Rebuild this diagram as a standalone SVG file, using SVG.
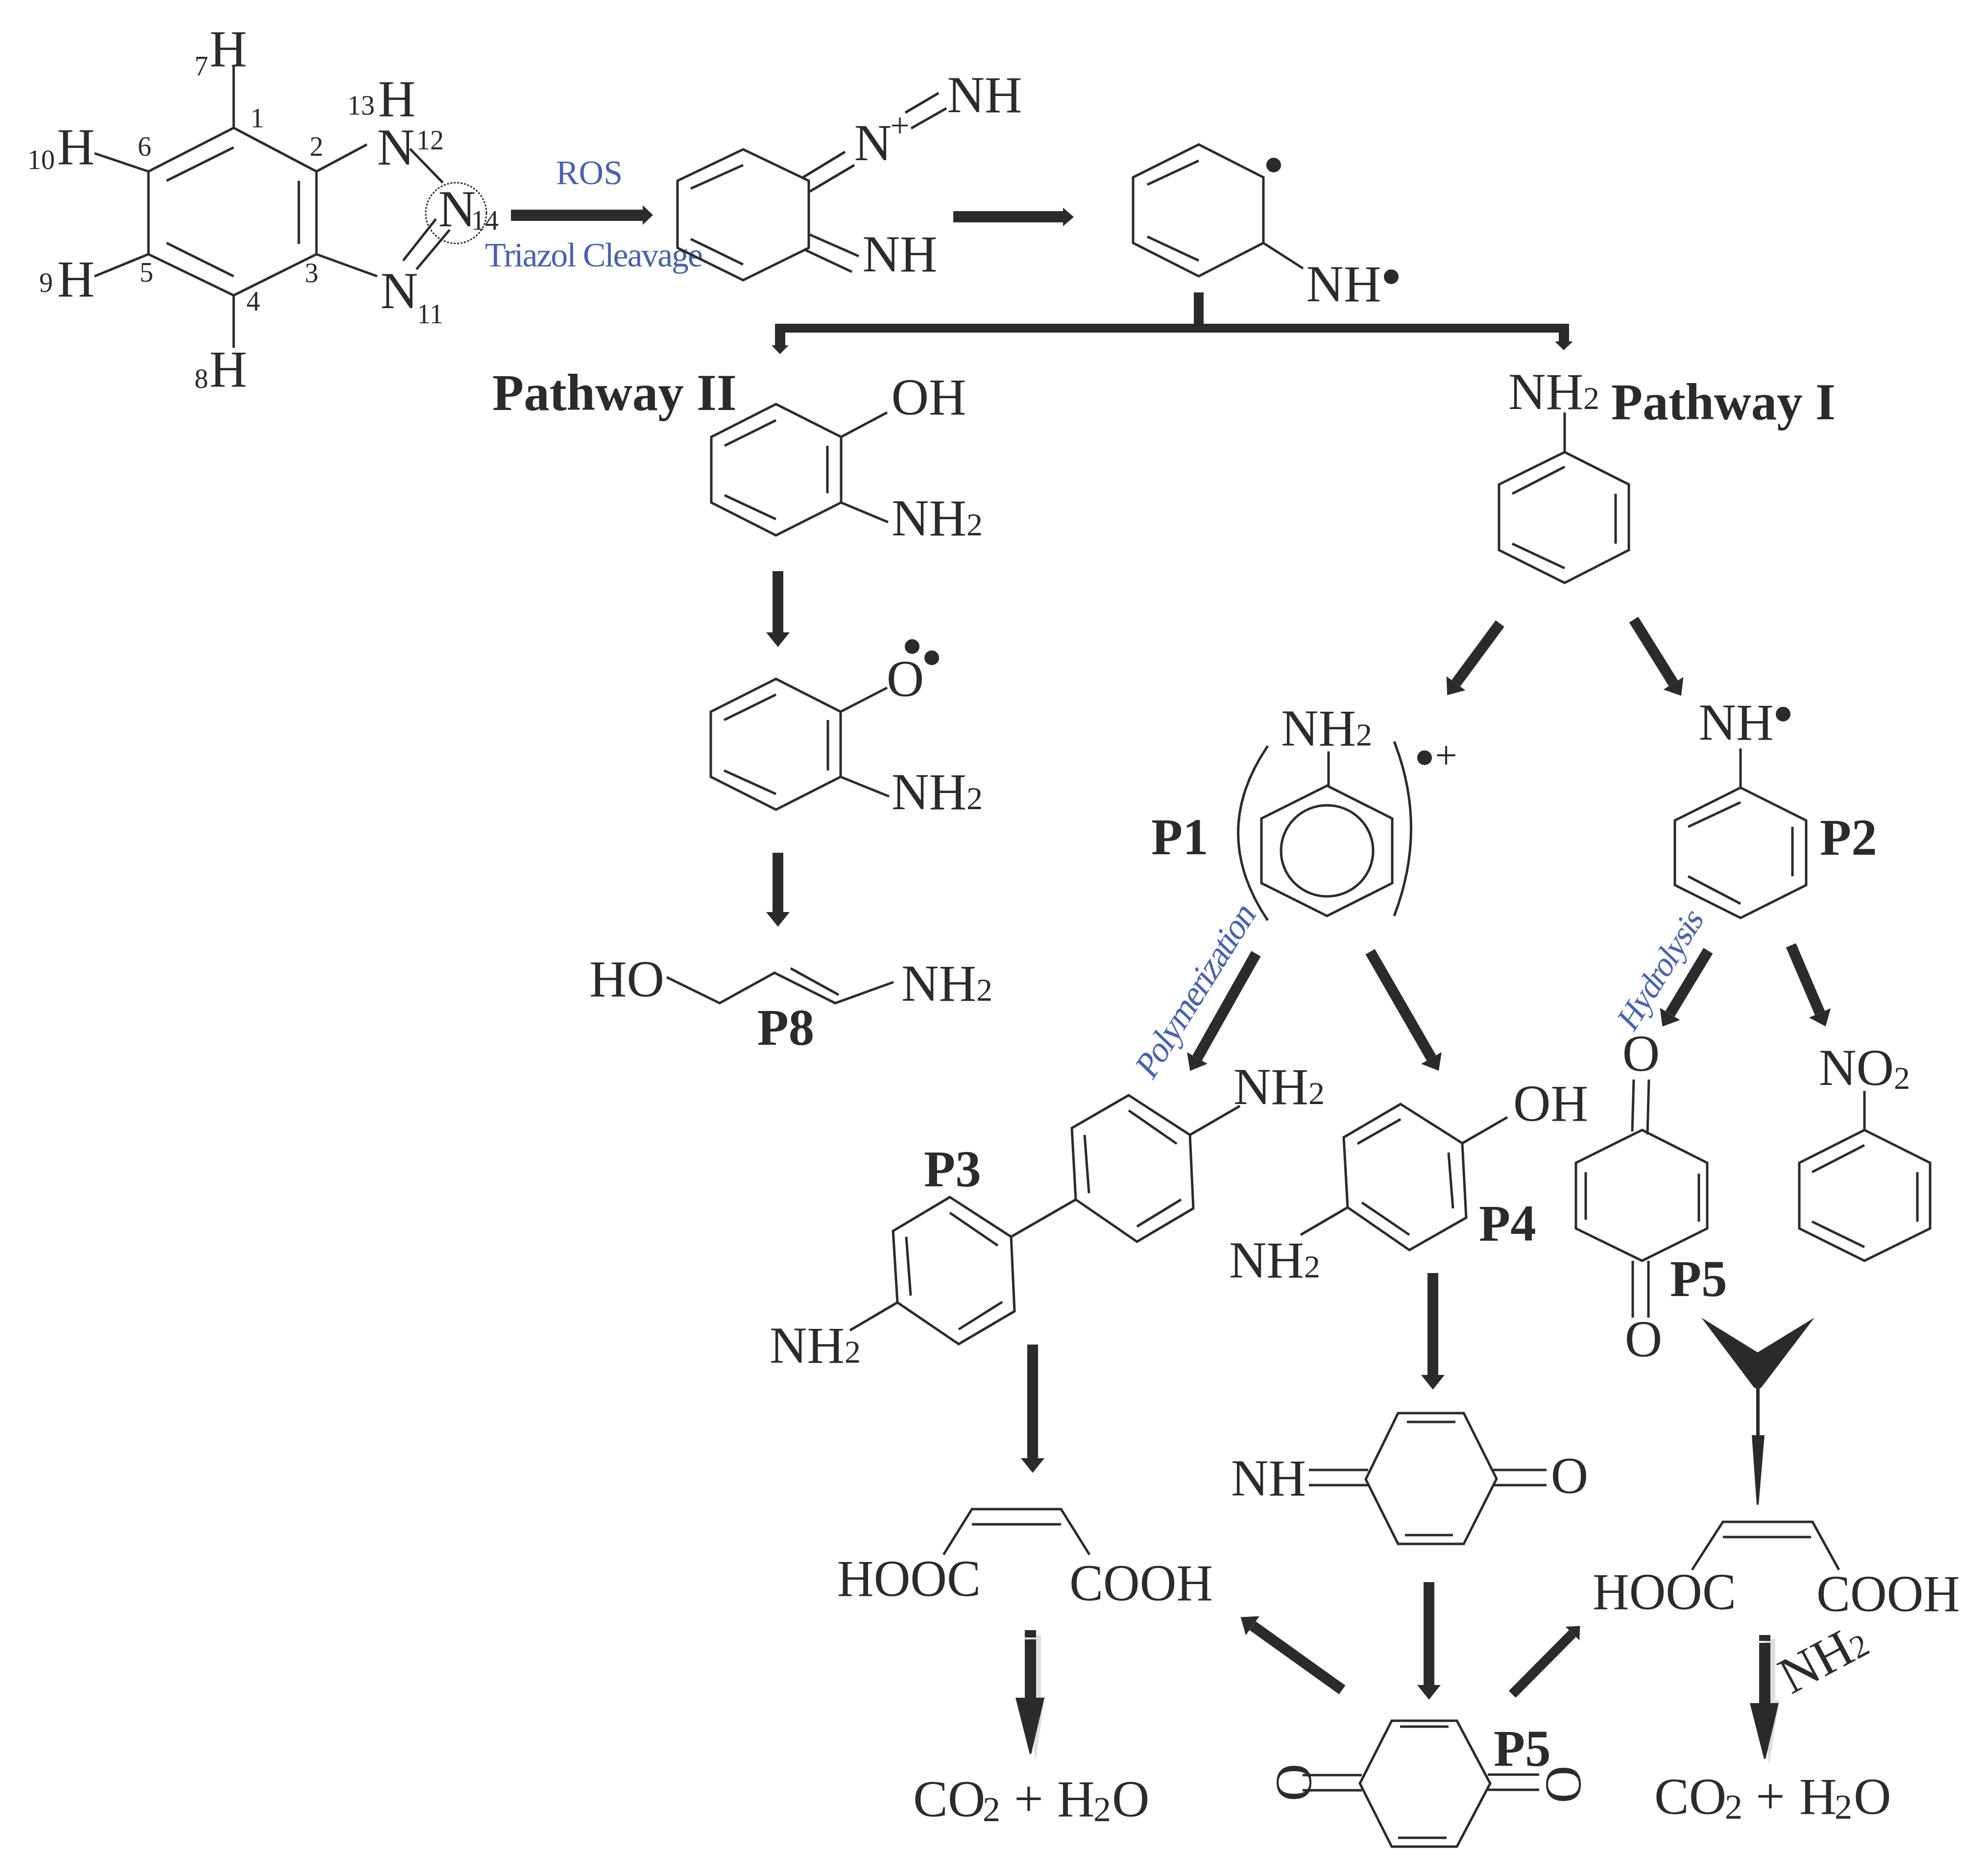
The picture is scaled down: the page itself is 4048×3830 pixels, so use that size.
<svg xmlns="http://www.w3.org/2000/svg" width="4048" height="3830" viewBox="0 0 4048 3830">
<style>
text{font-family:"Liberation Serif","Times New Roman",serif;fill:#2b2b2b}
.t{font-size:106px}
.n{font-size:56px;text-anchor:middle}
.m{text-anchor:middle}
.s{font-size:66px}
.u{font-size:72px}
.p{font-size:105px;font-weight:bold}
.l{fill:#4a62ac;font-size:70px}
.b{fill:none;stroke:#2b2b2b;stroke-width:5;stroke-linejoin:miter}
.a{fill:none;stroke:#2b2b2b;stroke-width:22}
.a2{fill:none;stroke:#2b2b2b;stroke-width:20}
.f{fill:#2b2b2b;stroke:none}
.g{fill:#dedede;stroke:none}
</style>
<defs>
<marker id="h" markerUnits="userSpaceOnUse" markerWidth="40" markerHeight="60" refX="0" refY="30" orient="auto" overflow="visible"><path class="f" d="M0 6L30 30L0 54z"/></marker>
<marker id="hs" markerUnits="userSpaceOnUse" markerWidth="40" markerHeight="60" refX="0" refY="30" orient="auto" overflow="visible"><path class="f" d="M0 10L22 30L0 50z"/></marker>
</defs>
<rect width="4048" height="3830" fill="#fff"/>
<g id="connectors">
<path class="f" d="M1043 428H1312V419L1333 439L1312 459V451H1043z"/>
<path class="f" d="M1946 431H2170V424L2192 443L2170 462V454H1946z"/>
<path class="f" d="M2437 597H2457V661H3203V697H3211L3192 715L3174 697H3182V679H1603V705H1610L1592 723L1575 705H1582V661H2437z"/>
<line class="a" x1="1588" y1="1166" x2="1588" y2="1291" marker-end="url(#h)"/>
<line class="a" x1="1588" y1="1741" x2="1588" y2="1862" marker-end="url(#h)"/>
<line class="a" x1="3062" y1="1273" x2="2972" y2="1395" marker-end="url(#h)"/>
<line class="a" x1="3335" y1="1265" x2="3416" y2="1395" marker-end="url(#h)"/>
<line class="a" x1="2564" y1="1947" x2="2444" y2="2160" marker-end="url(#h)"/>
<line class="a" x1="2797" y1="1943" x2="2922" y2="2160" marker-end="url(#h)"/>
<line class="a" x1="3487" y1="1941" x2="3409" y2="2070" marker-end="url(#h)"/>
<line class="a" x1="3656" y1="1930" x2="3715" y2="2068" marker-end="url(#h)"/>
<line class="a" x1="2108" y1="2745" x2="2108" y2="2977" marker-end="url(#h)"/>
<line class="a" x1="2925" y1="2599" x2="2925" y2="2807" marker-end="url(#h)"/>
<line class="a" x1="2917" y1="3230" x2="2917" y2="3440" marker-end="url(#h)"/>
<line class="a" x1="2740" y1="3450" x2="2557" y2="3319" marker-end="url(#h)"/>
<line class="a2" x1="3087" y1="3459" x2="3210" y2="3335" marker-end="url(#hs)"/>
<path class="g" d="M2103 3338h22v126h8l-18 126h-2l-10-120z"/>
<path class="f" d="M2092 3328h23v15h-23zM2092 3347h23v119h17l-27 115h-3l-29-115h19z"/>
<path class="g" d="M3602 3346h22v125h8l-20 129h-2l-8-120z"/>
<path class="f" d="M3591 3338h23v12h-23zM3591 3354h23v123h17l-27 114h-3l-29-114h19z"/>
<path class="f" d="M3473 2690L3588 2761L3704 2690L3596 2832L3592 2835V2930H3602L3590 3072H3586L3576 2930H3585V2835L3580 2832z"/>
</g>
<g id="benzotriazole">
<path class="b" d="M477 261L646 350V519L477 603L303 519V350zM477 301L340 369M610 369V498M340 496L477 564M477 135V261M477 603V710M193 313L303 350M193 564L303 519M646 350L749 295M837 304L904 373M890 447L823 532M918 469L850 550M646 519L770 564"/>
<ellipse cx="931" cy="435" rx="62" ry="62" fill="none" stroke="#2b2b2b" stroke-width="3" stroke-dasharray="4 3"/>
<text class="t m" x="466" y="135">H</text><text class="n" x="411" y="154">7</text>
<text class="n" x="525" y="260">1</text><text class="n" x="737" y="234">13</text>
<text class="t m" x="810" y="237">H</text><text class="n" x="295" y="318">6</text>
<text class="n" x="646" y="318">2</text><text class="t m" x="808" y="336">N</text>
<text class="n" x="878" y="305">12</text><text class="t m" x="155" y="335">H</text>
<text class="n" x="84" y="345">10</text><text class="t m" x="933" y="462">N</text>
<text class="n" x="990" y="469">14</text><text class="t m" x="155" y="605">H</text>
<text class="n" x="94" y="596">9</text><text class="n" x="299" y="575">5</text>
<text class="n" x="636" y="576">3</text><text class="t m" x="815" y="629">N</text>
<text class="n" x="878" y="660">11</text><text class="n" x="517" y="634">4</text>
<text class="t m" x="466" y="789">H</text><text class="n" x="411" y="792">8</text>
</g>
<g id="labels">
<text class="l m" x="1203" y="376">ROS</text>
<text class="l" x="990" y="544" textLength="445">Triazol Cleavage</text>
<text class="l" style="font-size:72px" transform="translate(2352,2208) rotate(-58) skewX(-12)" textLength="402">Polymerization</text>
<text class="l" style="font-size:68px" transform="translate(3334,2110) rotate(-58) skewX(-12)" textLength="274">Hydrolysis</text>
<text class="p" x="1005" y="837">Pathway II</text>
<text class="p" x="3289" y="856">Pathway I</text>
</g>
<g id="diazonium">
<path class="b" d="M1517 305L1651 369V506L1517 572L1383 506V369zM1517 337L1410 385M1410 488L1517 540M1636 364L1725 310M1653 391L1744 337M1848 230L1916 190M1860 262L1932 221M1653 479L1753 523M1641 509L1739 555"/>
<text class="t m" x="2010" y="229">NH</text><text class="t m" x="1782" y="327">N</text>
<text class="m" style="font-size:70px" x="1837" y="280">+</text><text class="t m" x="1837" y="554">NH</text>
</g>
<g id="diradical">
<path class="b" d="M2447 295L2579 362V496L2447 564L2313 496V362zM2447 328L2342 377M2342 483L2447 532M2579 496L2660 548"/>
<circle class="f" cx="2600" cy="337" r="15"/><circle class="f" cx="2840" cy="565" r="15"/>
<text class="t m" x="2743" y="615">NH</text>
</g>
<g id="aminophenol">
<path class="b" d="M1584 825L1717 892V1026L1584 1093L1452 1026V892zM1584 858L1479 910M1689 910V1007M1479 1011L1584 1060M1717 892L1811 842M1717 1026L1813 1066"/>
<text class="t m" x="1896" y="846">OH</text><text class="t" x="1820" y="1093">NH<tspan class="s">2</tspan></text>
</g>
<g id="aniline">
<path class="b" d="M3194 842V923M3194 923L3325 989V1123L3194 1190L3060 1123V989zM3194 953L3087 1008M3298 1008V1110M3087 1110L3194 1160"/>
<text class="t" x="3079" y="835">NH<tspan class="s">2</tspan></text>
</g>
<g id="oxyl">
<path class="b" d="M1584 1386L1716 1453V1586L1584 1653L1451 1586V1453zM1584 1418L1478 1470M1690 1470V1573M1478 1573L1584 1621M1716 1453L1811 1404M1716 1586L1815 1626"/>
<text class="t m" x="1848" y="1421">O</text><circle class="f" cx="1862" cy="1320" r="15"/><circle class="f" cx="1902" cy="1343" r="15"/>
<text class="t" x="1820" y="1652">NH<tspan class="s">2</tspan></text>
</g>
<g id="P8">
<path class="b" d="M1361 1995L1469 2048L1581 1986L1705 2048L1824 2005M1614 1977L1712 2031"/>
<text class="t" x="1203" y="2034">HO</text><text class="t" x="1840" y="2043">NH<tspan class="s">2</tspan></text>
<text class="p m" x="1604" y="2133">P8</text>
</g>
<g id="P1">
<path class="b" d="M2712 1534V1604M2709 1604L2842 1671V1803L2709 1870L2575 1803V1671zM2588 1523Q2467 1700 2588 1879M2846 1514Q2915 1690 2846 1870"/>
<ellipse class="b" cx="2709" cy="1737" rx="94" ry="93"/>
<text class="t" x="2615" y="1522">NH<tspan class="s">2</tspan></text>
<circle class="f" cx="2908" cy="1547" r="15"/><text class="m" style="font-size:80px" x="2952" y="1569">+</text>
<text class="p" x="2350" y="1744">P1</text>
</g>
<g id="P2">
<path class="b" d="M3553 1528V1608M3553 1608L3687 1675V1807L3553 1874L3419 1807V1675zM3553 1638L3446 1688M3659 1688V1789M3446 1789L3553 1845"/>
<text class="t m" x="3544" y="1510">NH</text><circle class="f" cx="3640" cy="1458" r="15"/>
<text class="p" x="3715" y="1745">P2</text>
</g>
<g id="P3">
<path class="b" d="M2304 2236L2429 2317L2436 2467L2321 2535L2196 2449L2188 2303zM2304 2267L2402 2335M2214 2317L2223 2436M2321 2504L2411 2449M2429 2317L2531 2258M1939 2444L2064 2525L2071 2677L1957 2744L1832 2659L1823 2513zM1939 2476L2037 2543M1850 2525L1859 2645M1957 2714L2046 2658M2064 2525L2196 2449M1832 2659L1735 2716"/>
<text class="t" x="2518" y="2254">NH<tspan class="s">2</tspan></text><text class="t" x="1571" y="2782">NH<tspan class="s">2</tspan></text>
<text class="p" x="1886" y="2422">P3</text>
</g>
<g id="P4">
<path class="b" d="M2859 2254L2985 2334L2993 2486L2877 2552L2751 2465L2743 2322zM2859 2285L2771 2335M2957 2353L2966 2467M2780 2455L2877 2521M2985 2334L3077 2281M2751 2465L2655 2521"/>
<text class="t" x="3089" y="2288">OH</text><text class="t" x="2509" y="2608">NH<tspan class="s">2</tspan></text>
<text class="p" x="3019" y="2533">P4</text>
</g>
<g id="P5-upper">
<path class="b" d="M3335 2204L3332 2310M3366 2204L3363 2316M3352 2307L3485 2374V2508L3352 2574L3217 2508V2374zM3237 2393V2490M3468 2396V2494M3333 2574V2690M3365 2574V2690"/>
<text class="t m" x="3350" y="2186">O</text><text class="t m" x="3355" y="2769">O</text>
<text class="p" x="3409" y="2646">P5</text>
</g>
<g id="nitrobenzene">
<path class="b" d="M3806 2227V2307M3806 2307L3940 2374V2508L3806 2574L3673 2508V2374zM3806 2338L3699 2393M3914 2393V2494M3699 2494L3806 2546"/>
<text class="t" x="3713" y="2215">NO<tspan class="s" dy="8">2</tspan></text>
</g>
<g id="iminoquinone">
<path class="b" d="M2854 2885H2988L3055 3019L2988 3152H2854L2788 3020zM2872 2903H2971M2868 3134H2966M2672 3001H2793M2672 3032H2793M3047 3001H3157M3047 3032H3157"/>
<text class="t" x="2513" y="3053">NH</text><text class="t m" x="3204" y="3048">O</text>
</g>
<g id="P5-lower">
<path class="b" d="M2841 3513H2974L3042 3641L2974 3770H2841L2776 3641zM2858 3525H2957M2854 3752H2953M3037 3623H3142M3037 3654H3142M2659 3624H2780M2659 3655H2780"/>
<text class="t m" transform="translate(3192,3643) rotate(90) translate(0,35)">O</text>
<text class="t m" transform="translate(2642,3639) rotate(90) translate(0,35)">O</text>
<text class="p" x="3049" y="3605">P5</text>
</g>
<g id="maleic-left">
<path class="b" d="M1926 3174L1984 3081H2166L2224 3174M1984 3112H2166"/>
<text class="t" x="1709" y="3258" textLength="293" lengthAdjust="spacingAndGlyphs">HOOC</text><text class="t" x="2183" y="3267" textLength="293" lengthAdjust="spacingAndGlyphs">COOH</text>
</g>
<g id="maleic-right">
<path class="b" d="M3454 3205L3517 3107H3700L3754 3205M3517 3138H3697"/>
<text class="t" x="3251" y="3285" textLength="293" lengthAdjust="spacingAndGlyphs">HOOC</text><text class="t" x="3708" y="3289" textLength="293" lengthAdjust="spacingAndGlyphs">COOH</text>
<text class="t" transform="translate(3656,3460) rotate(-28)">NH<tspan class="s">2</tspan></text>
</g>
<g id="end-left">
<text class="t" y="3708"><tspan x="1864">CO</tspan><tspan class="u" x="2006" y="3718">2</tspan><tspan x="2070" y="3708">+</tspan><tspan x="2158">H</tspan><tspan class="u" x="2232" y="3718">2</tspan><tspan x="2270" y="3708">O</tspan></text>
</g>
<g id="end-right">
<text class="t" y="3703"><tspan x="3377">CO</tspan><tspan class="u" x="3521" y="3713">2</tspan><tspan x="3584" y="3703">+</tspan><tspan x="3673">H</tspan><tspan class="u" x="3745" y="3713">2</tspan><tspan x="3784" y="3703">O</tspan></text>
</g>
</svg>
